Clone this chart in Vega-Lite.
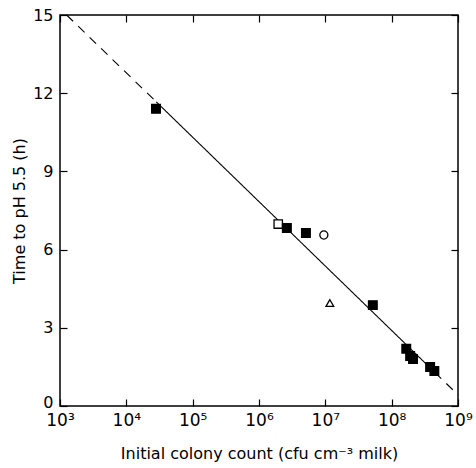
{
  "$schema": "https://vega.github.io/schema/vega-lite/v6.json",
  "width": 398,
  "height": 391,
  "autosize": "none",
  "padding": {"left": 60, "top": 15, "right": 18, "bottom": 62},
  "background": "white",
  "config": {
    "view": {"stroke": "black", "strokeWidth": 1.5},
    "font": "DejaVu Sans",
    "axis": {"grid": false, "domain": false, "tickColor": "black", "tickWidth": 1.2, "labelColor": "black", "titleColor": "black", "labelFont": "DejaVu Sans", "titleFont": "DejaVu Sans", "titleFontWeight": "normal"}
  },
  "datasets": {
    "points": [
      {"count": 28000, "time": 11.4, "kind": "filled square"},
      {"count": 1950000, "time": 6.98, "kind": "open square"},
      {"count": 2630000, "time": 6.83, "kind": "filled square"},
      {"count": 5100000, "time": 6.64, "kind": "filled square"},
      {"count": 9500000, "time": 6.56, "kind": "open circle"},
      {"count": 11700000, "time": 3.95, "kind": "open triangle"},
      {"count": 52000000, "time": 3.87, "kind": "filled square"},
      {"count": 166000000, "time": 2.2, "kind": "filled square"},
      {"count": 190000000, "time": 1.92, "kind": "filled square"},
      {"count": 210000000, "time": 1.8, "kind": "filled square"},
      {"count": 380000000, "time": 1.5, "kind": "filled square"},
      {"count": 440000000, "time": 1.34, "kind": "filled square"}
    ],
    "fit": [
      {"count": 1259, "time": 15.0, "seg": "dashed left"},
      {"count": 28200, "time": 11.67, "seg": "dashed left"},
      {"count": 28200, "time": 11.67, "seg": "solid"},
      {"count": 447000000, "time": 1.29, "seg": "solid"},
      {"count": 447000000, "time": 1.29, "seg": "dashed right"},
      {"count": 1000000000, "time": 0.43, "seg": "dashed right"}
    ]
  },
  "layer": [
    {
      "data": {"name": "fit"},
      "mark": {"type": "line", "color": "black", "strokeWidth": 1.1},
      "encoding": {
        "x": {
          "field": "count", "type": "quantitative",
          "scale": {"type": "log", "domain": [1000, 1000000000]},
          "axis": {
            "orient": "bottom",
            "values": [1000, 10000, 100000, 1000000, 10000000, 100000000, 1000000000],
            "labelExpr": "'10' + ['','','','³','⁴','⁵','⁶','⁷','⁸','⁹'][round(log(datum.value)/LN10)]",
            "labelFontSize": 17,
            "labelPadding": 13,
            "tickSize": -7,
            "labelFlush": false,
            "labelOverlap": false,
            "title": "Initial colony count (cfu cm⁻³ milk)",
            "titleFontSize": 16,
            "titlePadding": 17
          }
        },
        "y": {
          "field": "time", "type": "quantitative",
          "scale": {"domain": [0, 15]},
          "axis": {
            "orient": "left",
            "values": [0, 3, 6, 9, 12, 15],
            "labelFontSize": 16,
            "labelPadding": 14,
            "labelOffset": {"condition": {"test": "datum.value == 0", "value": -4}, "value": 0},
            "tickSize": -7,
            "labelFlush": false,
            "labelOverlap": false,
            "title": "Time to pH 5.5 (h)",
            "titleFontSize": 16,
            "titlePadding": 5
          }
        },
        "strokeDash": {
          "field": "seg", "type": "nominal",
          "scale": {"domain": ["dashed left", "solid", "dashed right"], "range": [[9, 7], [1, 0], [9, 7]]},
          "legend": null
        }
      }
    },
    {
      "data": {"name": "points"},
      "mark": {"type": "point", "filled": true, "stroke": "black", "strokeWidth": 1.3, "opacity": 1},
      "encoding": {
        "x": {
          "field": "count", "type": "quantitative",
          "scale": {"type": "log", "domain": [1000, 1000000000]},
          "axis": {"orient": "top", "values": [1000, 10000, 100000, 1000000, 10000000, 100000000, 1000000000], "labels": false, "title": null, "tickSize": -7}
        },
        "y": {
          "field": "time", "type": "quantitative",
          "scale": {"domain": [0, 15]},
          "axis": {"orient": "right", "values": [0, 3, 6, 9, 12, 15], "labels": false, "title": null, "tickSize": -7}
        },
        "shape": {
          "field": "kind", "type": "nominal",
          "scale": {"domain": ["filled square", "open square", "open circle", "open triangle"], "range": ["square", "square", "circle", "triangle-up"]},
          "legend": null
        },
        "fill": {
          "field": "kind", "type": "nominal",
          "scale": {"domain": ["filled square", "open square", "open circle", "open triangle"], "range": ["black", "white", "white", "white"]},
          "legend": null
        },
        "size": {
          "field": "kind", "type": "nominal",
          "scale": {"domain": ["filled square", "open square", "open circle", "open triangle"], "range": [75, 60, 80, 60]},
          "legend": null
        }
      }
    }
  ],
  "resolve": {"axis": {"x": "independent", "y": "independent"}}
}
